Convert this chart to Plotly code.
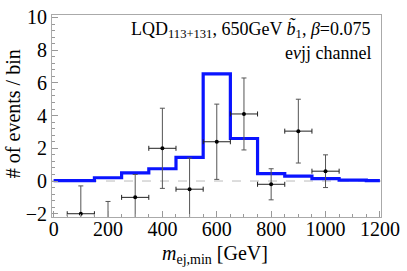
import plotly.graph_objects as go

# Histogram (signal expectation)
edges = [0, 150, 250, 350, 450, 550, 650, 750, 850, 950, 1050, 1150, 1200]
hist_vals = [0.02, 0.2, 0.5, 0.75, 1.45, 6.55, 2.6, 0.45, 0.3, 0.15, 0.05, 0.02]

# Data points (background-subtracted)
pt_x = [100, 200, 300, 400, 500, 600, 700, 800, 900, 1000]
pt_y = [-2.0, -3.0, -1.0, 2.0, -0.5, 2.4, 4.1, -0.2, 3.05, 0.6]
pt_err = [1.7, 1.75, 1.4, 2.45, 1.9, 2.3, 2.2, 0.95, 1.95, 1.0]
pt_xerr = [50] * len(pt_x)

x_ticks = [0, 200, 400, 600, 800, 1000, 1200]
y_ticks = [-2, 0, 2, 4, 6, 8, 10]

serif = "Liberation Serif, Times New Roman, serif"

fig = go.Figure()

fig.add_trace(go.Scatter(
    x=edges, y=hist_vals + [hist_vals[-1]],
    mode="lines", line=dict(shape="hv", color="#0a14ff", width=3.2),
    showlegend=False, hoverinfo="skip"))

fig.add_trace(go.Scatter(
    x=pt_x, y=pt_y, mode="markers",
    marker=dict(color="black", size=4),
    error_y=dict(type="data", array=pt_err, color="#555555", thickness=1, width=2.5),
    error_x=dict(type="data", array=pt_xerr, color="#222222", thickness=1, width=2.5),
    showlegend=False))

fig.add_shape(type="line", x0=0, x1=1, xref="paper", y0=0, y1=0, yref="y",
              line=dict(color="#bbbbbb", width=1, dash="dash"), layer="below")

fig.update_layout(
    width=407, height=271, margin=dict(l=52, r=16, t=7, b=54),
    plot_bgcolor="white", paper_bgcolor="white",
    font=dict(family=serif, size=19, color="black"),
)

fig.update_xaxes(
    range=[-6, 1204], tickmode="array", tickvals=x_ticks,
    showgrid=False, zeroline=False, showline=True, mirror=True,
    linecolor="#aaaaaa", linewidth=1, ticks="inside", tickcolor="#999999", ticklen=6,
    tickfont=dict(family=serif, size=20, color="black"), ticklabeloverflow="allow",
    ticklabelstandoff=-6,
    minor=dict(dtick=50, tick0=0, ticks="inside", ticklen=3, tickcolor="#999999"),
)
fig.update_yaxes(
    range=[-2.2, 10.15], tickmode="array", tickvals=y_ticks,
    showgrid=False, zeroline=False, showline=True, mirror=True,
    linecolor="#aaaaaa", linewidth=1, ticks="inside", tickcolor="#999999", ticklen=6,
    tickfont=dict(family=serif, size=20, color="black"), ticklabeloverflow="allow",
    minor=dict(dtick=0.4, tick0=0, ticks="inside", ticklen=3, tickcolor="#999999"),
)

# axis titles
fig.add_annotation(xref="paper", yref="paper", x=0.495, y=-0.188, xanchor="center", yanchor="middle",
                   text="<i>m</i><sub>ej,min</sub> [GeV]", showarrow=False,
                   font=dict(family=serif, size=20, color="black"))
fig.add_annotation(xref="paper", yref="paper", x=-0.118, y=0.51, xanchor="center", yanchor="middle",
                   text="# of events / bin", textangle=-90, showarrow=False,
                   font=dict(family=serif, size=20, color="black"))

# in-plot labels
fig.add_annotation(xref="paper", yref="paper", x=0.975, y=0.93, xanchor="right", yanchor="middle",
                   text="LQD<sub>113+131</sub>, 650GeV <i>b̃</i><sub>1</sub>, <i>β</i>=0.075",
                   showarrow=False, font=dict(family=serif, size=18, color="black"))
fig.add_annotation(xref="paper", yref="paper", x=0.975, y=0.812, xanchor="right", yanchor="middle",
                   text="e<i>ν</i>jj channel",
                   showarrow=False, font=dict(family=serif, size=18, color="black"))

post = """
document.body.style.margin='0';
var d=document.getElementsByClassName('plotly-graph-div')[0];
d.style.position='fixed'; d.style.top='0px'; d.style.left='0px';
"""
fig.write_html("out.html", post_script=post, config={"displayModeBar": False})
